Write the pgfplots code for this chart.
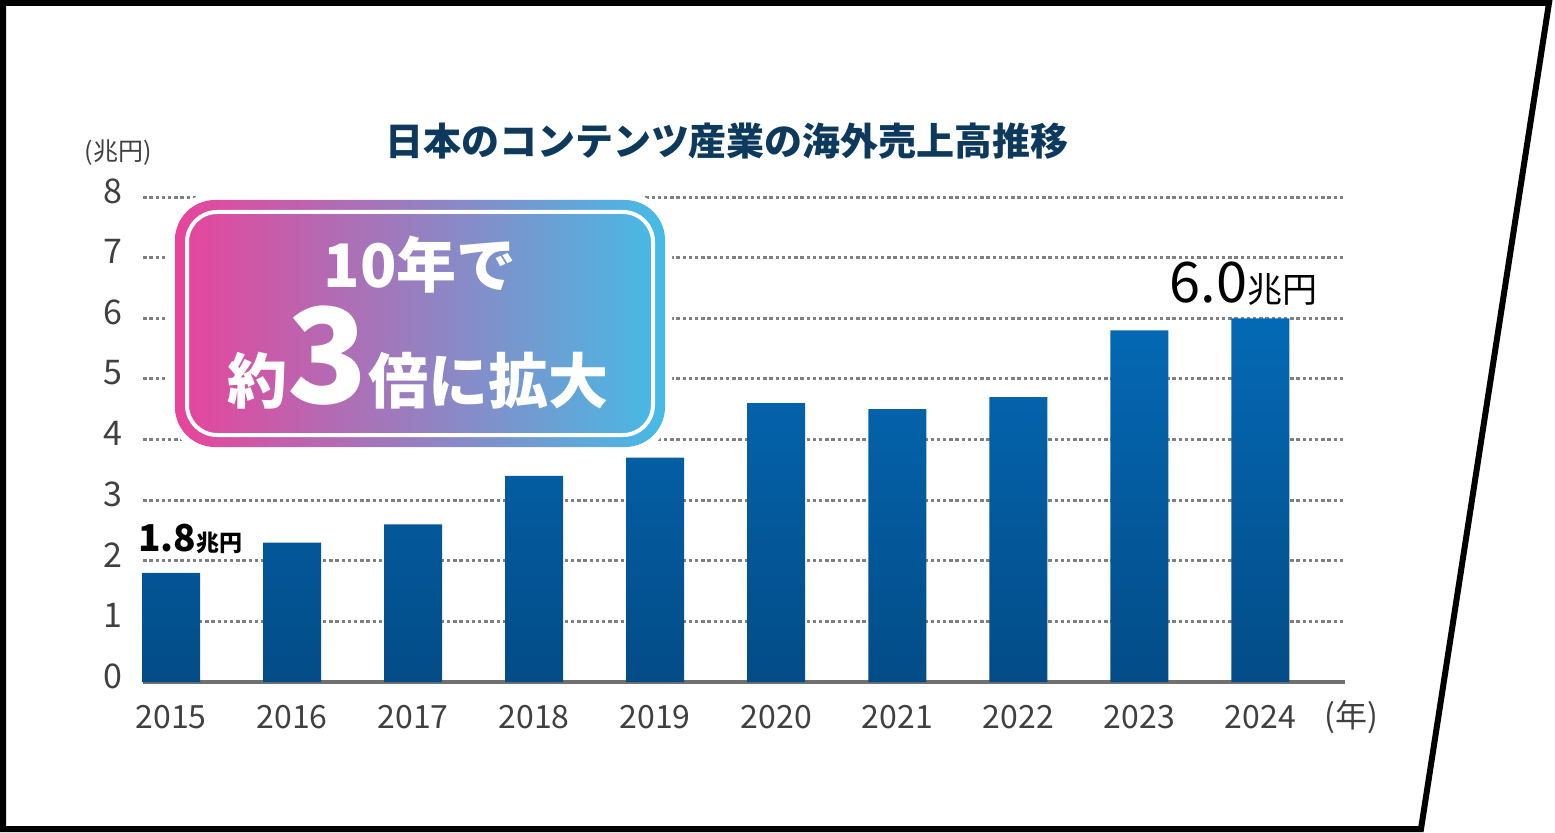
\documentclass[border=0pt]{standalone}
\usepackage{fontspec}
\setmainfont{Noto Sans CJK JP}
\usepackage{pgfplots}
\pgfplotsset{compat=1.18}
\definecolor{barTop}{HTML}{0469B5}
\definecolor{barBot}{HTML}{034C87}
\definecolor{gridGray}{HTML}{808080}
\definecolor{baseGray}{HTML}{707070}
\definecolor{tickGray}{HTML}{404040}
\definecolor{titleNavy}{HTML}{0D3A5C}
\definecolor{boxPink}{HTML}{E8449B}
\definecolor{boxCyan}{HTML}{44BCE6}
\newcommand{\fs}[1]{\fontsize{#1}{#1}\selectfont}
\begin{document}
\begin{tikzpicture}[x=0.5pt,y=0.5pt]
\useasboundingbox (0,0) rectangle (1555,832);
% outer frame
\draw[line width=3pt] (3,829) -- (1549,829) -- (1421,3) -- (3,3) -- cycle;

% title and unit
\node[text=titleNavy, font=\bfseries\fs{19pt}] at (727,691) {日本のコンテンツ産業の海外売上高推移};
\node[text=tickGray, font=\fs{12.5pt}] at (118,679) {(兆円)};

\begin{axis}[
  at={(85.5pt,75pt)}, anchor=origin,
  scale only axis, width=601pt, height=242.5pt,
  xmin=-0.23, xmax=9.7, ymin=0, ymax=8,
  ybar, bar width=29pt,
  xtick={0,...,9},
  xticklabels={2015,2016,2017,2018,2019,2020,2021,2022,2023,2024},
  ytick={0,...,8},
  ymajorgrids,
  grid style={gridGray, line width=1.5pt, dash pattern=on 1.75pt off 1.35pt},
  axis x line*=bottom, axis y line*=left,
  x axis line style={draw=baseGray, line width=2pt, -},
  y axis line style={draw=none},
  major tick length=0pt,
  tick label style={text=tickGray, font=\fs{16pt}},
  xticklabel style={yshift=-8pt},
  yticklabel style={xshift=-7pt, yshift=3pt, font=\fs{17pt}},
  /pgf/number format/assume math mode=true,
  clip=false,
]
\addplot[ybar, draw=none, top color=barTop, middle color=barTop, bottom color=barBot]
  coordinates {(0,1.8) (1,2.3) (2,2.6) (3,3.4) (4,3.7) (5,4.6) (6,4.5) (7,4.7) (8,5.8) (9,6.0)};
\node[anchor=base west, inner sep=0, xshift=-16.5pt, yshift=10.5pt] at (axis cs:0,1.8)
  {\bfseries\fs{18.5pt}1.8\fs{11.5pt}兆円};
\node[anchor=base west, inner sep=0, xshift=-45.5pt, yshift=8pt] at (axis cs:9,6.0)
  {\fs{28pt}6.0\fs{17.5pt}兆円};
\end{axis}

\node[text=tickGray, font=\fs{16pt}] at (1351,115) {(年)};

% callout box
\draw[white, line width=7pt, rounded corners=20pt] (175,385) rectangle (665,632);
\shade[left color=boxPink, right color=boxCyan, rounded corners=20pt] (175,385) rectangle (665,632);
\draw[white, line width=2pt, rounded corners=15pt] (187,397) rectangle (653,620);
\node[white, font=\bfseries\fs{30pt}, anchor=base, inner sep=0] at (420,545) {10年で};
\node[white, font=\bfseries, anchor=base, inner sep=0] at (418,429)
  {\fs{30pt}約\fs{66pt}3\fs{30pt}倍に拡大};
\end{tikzpicture}
\end{document}
